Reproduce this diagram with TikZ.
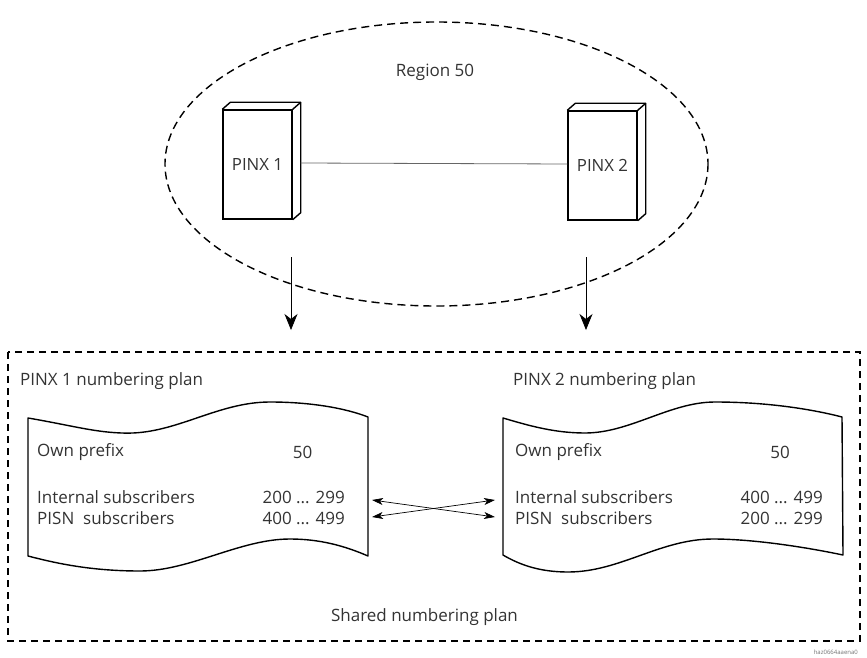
\documentclass[tikz,border=0pt]{standalone}
\usepackage{fontspec}
\setmainfont{Open Sans}
\usetikzlibrary{arrows.meta}
\definecolor{txt}{HTML}{333333}
\tikzset{
  lbl/.style={inner sep=0pt, text=txt, font=\fontsize{17}{20}\selectfont},
  pinx/.style={draw, line width=1.4pt, minimum width=69pt, minimum height=109pt, inner sep=0pt, text=txt, font=\fontsize{16.8}{20}\selectfont},
  outline/.style={line width=1.4pt, line join=round},
  dash1/.style={line width=1.4pt, dash pattern=on 8pt off 5pt},
  downarrow/.style={line width=0.8pt, -{Stealth[length=16pt,width=13pt,inset=5pt]}},
  crossarrow/.style={line width=0.7pt, {Stealth[length=11pt,width=7pt,inset=3pt]}-{Stealth[length=11pt,width=7pt,inset=3pt]}}
}
\begin{document}
\begin{tikzpicture}[x=1pt,y=-1pt]
\useasboundingbox (0,0) rectangle (867,658);
% region ellipse
\draw[dash1] (436.5,164) ellipse [x radius=271.5, y radius=142];
\node[lbl] (region) at (435,72) {Region 50};
% PINX boxes
\node[pinx] (p1) at (257.5,164.5) {PINX 1};
\node[pinx] (p2) at (602.5,165.5) {PINX 2};
\foreach \n in {p1,p2}{
  \draw[outline] (\n.north west) -- ++(8,-7) -- ([shift={(8,-7)}]\n.north east) -- ([shift={(8,-7)}]\n.south east) -- (\n.south east);
  \draw[outline] (\n.north east) -- ++(8,-7);
}
\draw[line width=0.8pt, black!60] ([xshift=8pt,yshift=1.5pt]p1.east) -- ([yshift=1.5pt]p2.west);
% down arrows
\coordinate (d1s) at (291,257); \coordinate (d1e) at (291,330);
\coordinate (d2s) at (586,257); \coordinate (d2e) at (586,330);
\draw[downarrow] (d1s) -- (d1e);
\draw[downarrow] (d2s) -- (d2e);
% shared plan rectangle
\draw[line width=1.4pt, dash pattern=on 7pt off 5pt] (8,352) rectangle (860,641);
\node[lbl, anchor=west] (t1) at (20,381) {PINX 1 numbering plan};
\node[lbl, anchor=west] (t2) at (513,381) {PINX 2 numbering plan};
\node[lbl] (shared) at (424.5,617) {Shared numbering plan};
% documents
\draw[outline] (28,418) .. controls (75,426) and (100,434) .. (133,433)
  .. controls (180,431) and (220,402) .. (270,402)
  .. controls (310,402) and (345,408) .. (368,417)
  -- (368,556)
  .. controls (345,546) and (320,539) .. (290,539)
  .. controls (240,539) and (190,571) .. (140,571)
  .. controls (90,571) and (55,563) .. (28,556) -- cycle;
\draw[outline] (503,418) .. controls (530,426) and (555,433) .. (585,433)
  .. controls (630,433) and (670,402) .. (715,402)
  .. controls (770,402) and (815,410) .. (842,417)
  -- (843,555)
  .. controls (800,546) and (750,539) .. (713,539)
  .. controls (660,539) and (620,572) .. (568,572)
  .. controls (540,572) and (520,565) .. (503,555) -- cycle;
% texts left
\node[lbl, anchor=west] (op1) at (37,452) {Own prefix};
\node[lbl] (pf1) at (302.5,452) {50};
\node[lbl, anchor=west] (in1) at (37,497) {Internal subscribers};
\node[lbl, anchor=west] (ps1) at (37,518) {PISN\ \ subscribers};
\node[lbl, anchor=east] (inr1) at (345,497) {200 ... 299};
\node[lbl, anchor=east] (psr1) at (345,518) {400 ... 499};
% texts right
\node[lbl, anchor=west] (op2) at (515,452) {Own prefix};
\node[lbl] (pf2) at (780,452) {50};
\node[lbl, anchor=west] (in2) at (515,497) {Internal subscribers};
\node[lbl, anchor=west] (ps2) at (515,518) {PISN\ \ subscribers};
\node[lbl, anchor=east] (inr2) at (823,497) {400 ... 499};
\node[lbl, anchor=east] (psr2) at (823,518) {200 ... 299};
% cross arrows
\coordinate (a1) at (372,500); \coordinate (a2) at (495,517);
\coordinate (a3) at (372,517); \coordinate (a4) at (495,500);
\draw[crossarrow] (a1) -- (a2);
\draw[crossarrow] (a3) -- (a4);
% id
\node[inner sep=0pt, anchor=east, text=black!55, font=\fontsize{6}{7}\selectfont] (id) at (858,652) {haz0664aaena0};
\end{tikzpicture}
\end{document}
